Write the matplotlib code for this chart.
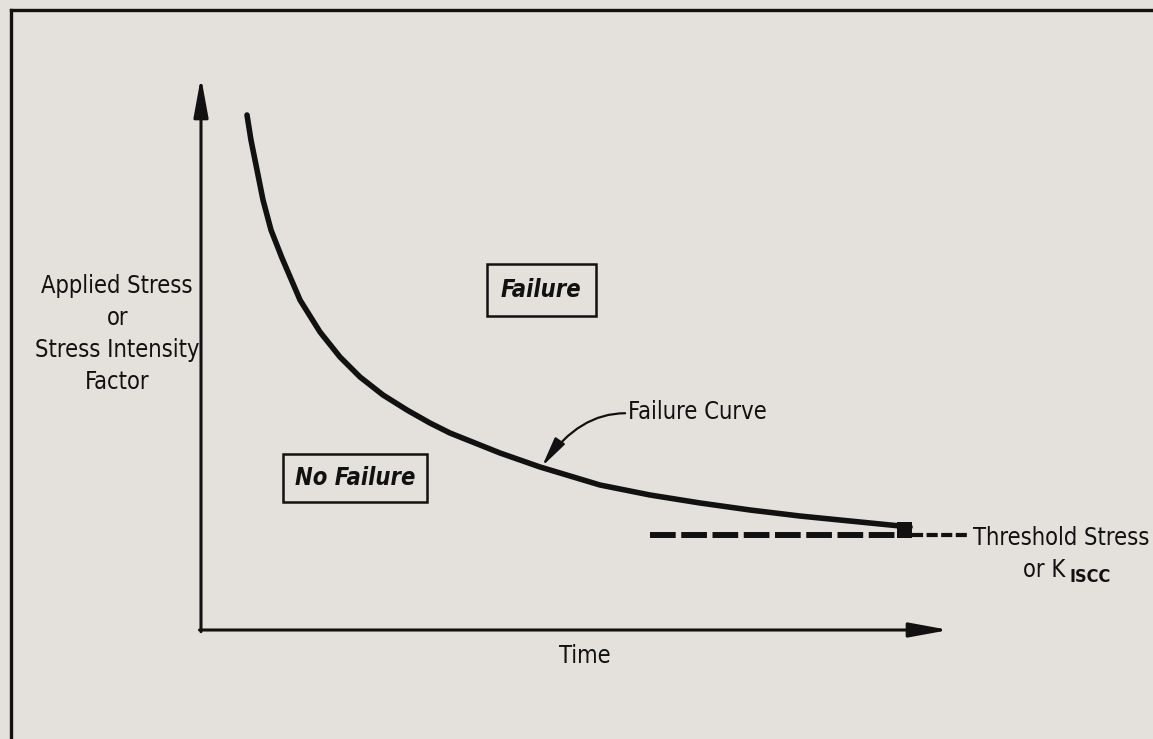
import matplotlib.pyplot as plt
from matplotlib.lines import Line2D

plt.rcParams['font.family'] = ['DejaVu Sans']
plt.rcParams['font.stretch'] = 'condensed'
plt.rcParams['lines.scale_dashes'] = False

# failure curve (time 0-100, stress 0-100)
curve_time = [6.15, 6.68, 7.49, 8.29, 9.36, 10.83, 13.24, 15.91, 18.58, 21.26,
              24.33, 27.54, 30.61, 33.29, 39.97, 45.32, 53.34, 60.03, 66.71,
              73.40, 80.08, 86.76, 90.78, 94.79]
curve_stress = [93.13, 88.61, 83.18, 77.76, 72.33, 67.27, 59.67, 53.89, 49.37,
                45.75, 42.50, 39.78, 37.43, 35.62, 32.01, 29.48, 26.22, 24.41,
                22.97, 21.70, 20.61, 19.71, 19.17, 18.63]

threshold_level = 17.2
threshold_start, threshold_end = 60.0, 95.1
threshold_tail_end = 102.4

bg = '#e4e1dc'
ink = '#111111'

fig = plt.figure(figsize=(11.53, 7.39), dpi=100, facecolor=bg)
ax = fig.add_axes([0, 0, 1, 1])
ax.set_facecolor(bg)
# 0..100 on both axes maps onto the drawn axis arrows
ax.set_xlim(-201 / 7.48, (1153 - 201) / 7.48)
ax.set_ylim(-(739 - 630) / 5.53, 630 / 5.53)
ax.axis('off')

# outer frame (left and top edges only are visible)
fig.add_artist(Line2D([11 / 1153, 11 / 1153], [0, 1 - 10 / 739], color=ink, lw=2.4,
                      transform=fig.transFigure))
fig.add_artist(Line2D([11 / 1153, 1], [1 - 10 / 739, 1 - 10 / 739], color=ink, lw=2.4,
                      transform=fig.transFigure))

# axis arrows
arrow = dict(arrowstyle='-|>,head_length=1.2,head_width=0.22', color=ink, lw=2.2,
             shrinkA=0, shrinkB=0, mutation_scale=20)
ax.annotate('', xy=(0, 100), xytext=(0, -0.3), arrowprops=arrow)
ax.annotate('', xy=(100, 0), xytext=(-0.2, 0), arrowprops=arrow)

# failure curve
ax.plot(curve_time, curve_stress, color=ink, lw=4.0, solid_capstyle='round',
        solid_joinstyle='round')

# threshold line
ax.plot([threshold_start, threshold_end], [threshold_level, threshold_level],
        color=ink, lw=4.3, dashes=(18.5, 4.0), dash_capstyle='butt')
ax.plot([threshold_end, threshold_tail_end], [threshold_level, threshold_level],
        color=ink, lw=3.0, dashes=(8.0, 2.5), dash_capstyle='butt', clip_on=False)
ax.fill_between([93.0, 95.1], [16.6, 16.6], [19.5, 19.5], color=ink, lw=0)

fs = 17
ax.text(-11.2, 53.5, 'Applied Stress\nor\nStress Intensity\nFactor', ha='center',
        va='center', fontsize=fs, linespacing=1.42, color=ink)
ax.text(51.3, -4.7, 'Time', ha='center', va='center', fontsize=fs, color=ink)

ax.text(45.5, 61.5, 'Failure', ha='center', va='center', fontsize=fs,
        fontweight='bold', style='italic', color=ink,
        bbox=dict(boxstyle='square,pad=0.6', fc='none', ec=ink, lw=1.8))
ax.text(20.6, 27.5, 'No Failure', ha='center', va='center', fontsize=fs,
        fontweight='bold', style='italic', color=ink,
        bbox=dict(boxstyle='square,pad=0.5', fc='none', ec=ink, lw=1.8))

ax.text(57.1, 39.4, 'Failure Curve', ha='left', va='center', fontsize=fs, color=ink)
ax.annotate('', xy=(45.6, 29.6), xytext=(56.7, 39.2),
            arrowprops=dict(arrowstyle='-|>,head_length=0.9,head_width=0.18',
                            color=ink, lw=1.6, shrinkA=0, shrinkB=0,
                            mutation_scale=20,
                            connectionstyle='angle3,angleA=0,angleB=55'))

ax.text(103.2, 16.6, 'Threshold Stress', ha='left', va='center', fontsize=fs,
        color=ink)
ax.text(109.9, 10.8, 'or K', ha='left', va='center', fontsize=fs, color=ink)
ax.text(116.1, 9.6, 'ISCC', ha='left', va='center', fontsize=13, fontweight='bold',
        color=ink)

fig.savefig('out.png', dpi=100, facecolor=bg)
